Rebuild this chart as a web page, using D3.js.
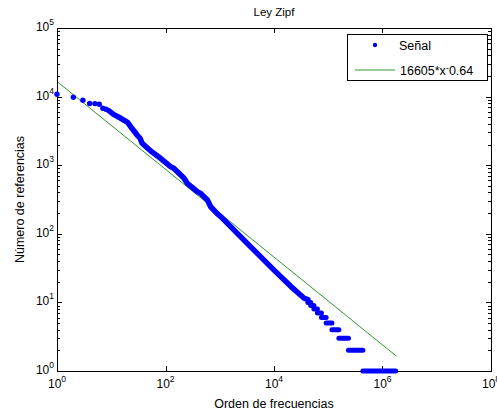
<!DOCTYPE html>
<html><head><meta charset="utf-8">
<script src="https://cdn.jsdelivr.net/npm/d3@7"></script>
<style>body{margin:0;background:#fff} text{font-family:Arial,"Liberation Sans",Helvetica,sans-serif;fill:#000}</style>
</head><body><svg id="c" width="497" height="414"></svg>
<script>
// Rank-frequency data (Zipf plot)
const headRanks = [1, 2, 3, 4, 5, 6, 7, 8];
const headCounts = [10800, 9800, 8830, 7950, 7900, 7750, 6770, 6530];
const bandRanks = [9, 11, 15, 20, 24, 30, 34, 37, 53, 81, 124, 142, 218, 252, 386, 445, 592, 680, 906, 1044, 3240, 10000, 20600, 36000, 42100];
const bandCounts = [6240, 5520, 4830, 4220, 3450, 2750, 2470, 2090, 1620, 1260, 955, 902, 650, 545, 411, 388, 311, 248, 195, 178, 72, 29.5, 17, 11.5, 11];
const stepCounts = [10, 9, 8, 7, 6, 5, 4, 3, 2, 1];
const stepStart = [42100, 47400, 54300, 63100, 74800, 91400, 117000, 157000, 236000, 435000];
const stepEnd = [47400, 54300, 63100, 74800, 91400, 117000, 157000, 236000, 435000, 1750000];
// fitted power law
const fitCoef = 16605;
const fitExp = -0.64;
const fitRange = [1, 1800000];
// axis ticks
const xTickExp = [0, 2, 4, 6, 8];
const yTickExp = [0, 1, 2, 3, 4, 5];
const titleText = "Ley Zipf";
const xLabel = "Orden de frecuencias";
const yLabel = "Número de referencias";
const legendLabels = ["Señal", "16605*x"];

const svg = d3.select("#c");
const L = 57, R = 491, T = 28, B = 371;
const x = d3.scaleLog().domain([1, 1e8]).range([L, R]);
const y = d3.scaleLog().domain([1, 1e5]).range([B, T]);
const blue = "#0000ff", green = "#2f962f";

svg.append("rect").attr("width", 497).attr("height", 414).attr("fill", "#fff");

// fit line
const fitPts = fitRange.map(r => [r, fitCoef * Math.pow(r, fitExp)]);
svg.append("path")
  .attr("d", d3.line().x(d => x(d[0])).y(d => y(d[1]))(fitPts))
  .attr("stroke", green).attr("stroke-width", 1).attr("fill", "none");

// axes box
svg.append("rect").attr("x", L + 0.5).attr("y", T + 0.5).attr("width", R - L).attr("height", B - T)
  .attr("fill", "none").attr("stroke", "#000").attr("stroke-width", 1).attr("shape-rendering", "crispEdges");

const g = svg.append("g").attr("stroke", "#000").attr("stroke-width", 1).attr("shape-rendering", "crispEdges");
xTickExp.forEach(e => {
  const px = Math.round(x(Math.pow(10, e))) + 0.5;
  g.append("line").attr("x1", px).attr("x2", px).attr("y1", B).attr("y2", B - 5);
  g.append("line").attr("x1", px).attr("x2", px).attr("y1", T).attr("y2", T + 5);
});
yTickExp.forEach(e => {
  const py = Math.round(y(Math.pow(10, e))) + 0.5;
  g.append("line").attr("x1", L).attr("x2", L + 5).attr("y1", py).attr("y2", py);
  g.append("line").attr("x1", R).attr("x2", R - 5).attr("y1", py).attr("y2", py);
  if (e < 5) {
    for (let m = 2; m <= 9; m++) {
      const pm = Math.round(y(m * Math.pow(10, e))) + 0.5;
      g.append("line").attr("x1", L).attr("x2", L + 3).attr("y1", pm).attr("y2", pm);
      g.append("line").attr("x1", R).attr("x2", R - 3).attr("y1", pm).attr("y2", pm);
    }
  }
});

// tick labels
function powLabel(sel, ex, anchorX, baseY, align) {
  const t = sel.append("text").attr("y", baseY).attr("font-size", 12);
  t.append("tspan").text("10");
  t.append("tspan").attr("dy", -6).attr("font-size", 8.5).text(ex);
  const w = t.node().getComputedTextLength();
  t.attr("x", align === "end" ? anchorX - w : anchorX - w / 2);
}
xTickExp.forEach(e => powLabel(svg, e, x(Math.pow(10, e)), 388, "middle"));
yTickExp.forEach(e => powLabel(svg, e, 54, y(Math.pow(10, e)) + 3, "end"));

// data marks
svg.append("path")
  .attr("d", d3.line().x(d => x(d)).y((d, i) => y(bandCounts[i]))(bandRanks))
  .attr("stroke", blue).attr("stroke-width", 5.5).attr("fill", "none")
  .attr("stroke-linecap", "round").attr("stroke-linejoin", "round");
stepCounts.forEach((c, i) => {
  svg.append("line")
    .attr("x1", x(stepStart[i])).attr("x2", x(stepEnd[i]))
    .attr("y1", y(c)).attr("y2", y(c))
    .attr("stroke", blue).attr("stroke-width", 5).attr("stroke-linecap", "round");
});
svg.selectAll("circle.h").data(headRanks).enter().append("circle")
  .attr("cx", d => x(d)).attr("cy", (d, i) => y(headCounts[i])).attr("r", 2.7).attr("fill", blue);

// title & labels
svg.append("text").attr("x", (L + R) / 2).attr("y", 16).attr("text-anchor", "middle").attr("font-size", 11.5).text(titleText);
svg.append("text").attr("x", (L + R) / 2).attr("y", 408).attr("text-anchor", "middle").attr("font-size", 12.5).text(xLabel);
svg.append("text").attr("transform", "translate(24," + ((T + B) / 2) + ") rotate(-90)")
  .attr("text-anchor", "middle").attr("font-size", 12.5).text(yLabel);

// legend
const lg = svg.append("g");
lg.append("rect").attr("x", 347.5).attr("y", 34.5).attr("width", 140).attr("height", 46)
  .attr("fill", "#fff").attr("stroke", "#000").attr("stroke-width", 1);
lg.append("circle").attr("cx", 375).attr("cy", 45).attr("r", 2.2).attr("fill", blue);
lg.append("text").attr("x", 399).attr("y", 50).attr("font-size", 12.5).text(legendLabels[0]);
lg.append("line").attr("x1", 355).attr("x2", 395).attr("y1", 70).attr("y2", 70).attr("stroke", green).attr("stroke-width", 1);
const lt = lg.append("text").attr("x", 400).attr("y", 75).attr("font-size", 12.5);
lt.append("tspan").text(legendLabels[1]);
lt.append("tspan").attr("dy", -4).attr("font-size", 9).text("-");
lt.append("tspan").attr("dy", 4).text(String(-fitExp).replace(/^0?/, "0"));
</script></body></html>
